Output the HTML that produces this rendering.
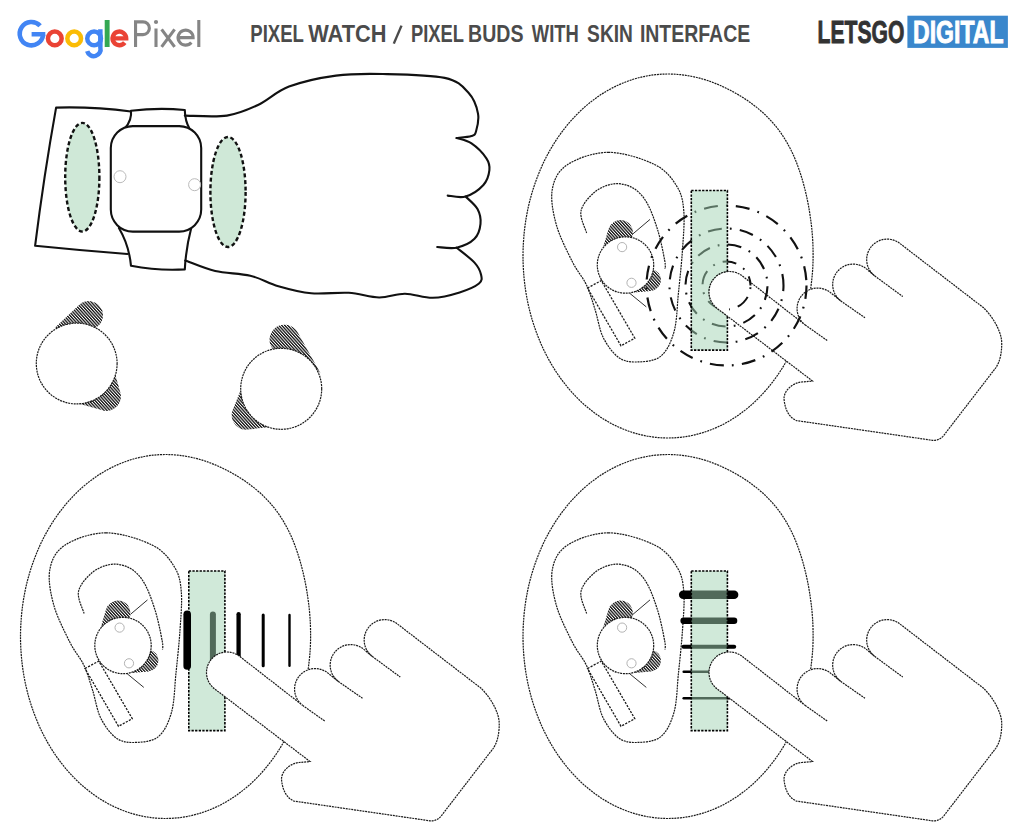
<!DOCTYPE html>
<html><head><meta charset="utf-8">
<style>
html,body{margin:0;padding:0;background:#fff;}
body{width:1024px;height:839px;overflow:hidden;}
svg{display:block;}
</style></head>
<body>
<svg width="1024" height="839" viewBox="0 0 1024 839" font-family="Liberation Sans, sans-serif">
<defs>
<pattern id="hatch" patternUnits="userSpaceOnUse" width="2.25" height="4" patternTransform="rotate(-42)">
<rect width="2.25" height="4" fill="#fff"/>
<rect width="1.3" height="4" fill="#111"/>
</pattern>
<clipPath id="rclip"><rect x="690" y="189" width="39" height="162"/></clipPath>
<g id="base">
<g fill="none" stroke="#1a1a1a" stroke-width="1.2" stroke-dasharray="2 0.8">
<path d="M813.1,256.0 C813.1,261.3 812.9,266.6 812.5,271.9 C812.1,277.1 811.5,282.4 810.8,287.6 C810.1,292.8 809.2,298.0 808.1,303.1 C807.0,308.2 805.7,313.3 804.3,318.2 C802.8,323.2 801.2,328.1 799.4,332.9 C797.6,337.7 795.7,342.4 793.6,347.0 C791.5,351.6 789.2,356.1 786.8,360.4 C784.4,364.7 781.8,368.9 779.1,373.0 C776.4,377.0 773.5,381.0 770.5,384.7 C767.6,388.4 764.4,392.0 761.2,395.4 C758.0,398.8 754.6,402.1 751.2,405.1 C747.7,408.1 744.1,411.0 740.5,413.6 C736.9,416.3 733.1,418.7 729.3,420.9 C725.5,423.2 721.6,425.2 717.6,427.0 C713.6,428.8 709.6,430.4 705.5,431.8 C701.5,433.2 697.3,434.3 693.2,435.2 C689.0,436.2 684.8,436.8 680.6,437.3 C676.4,437.8 672.2,438.0 668.0,438.0 C663.8,438.0 659.6,437.8 655.4,437.3 C651.2,436.8 647.0,436.2 642.8,435.2 C638.7,434.3 634.5,433.2 630.5,431.8 C626.4,430.4 622.4,428.8 618.4,427.0 C614.4,425.2 610.5,423.2 606.7,420.9 C602.9,418.7 599.1,416.3 595.5,413.6 C591.9,411.0 588.3,408.1 584.8,405.1 C581.4,402.1 578.0,398.8 574.8,395.4 C571.6,392.0 568.4,388.4 565.5,384.7 C562.5,381.0 559.6,377.0 556.9,373.0 C554.2,368.9 551.6,364.7 549.2,360.4 C546.8,356.1 544.5,351.6 542.4,347.0 C540.3,342.4 538.4,337.7 536.6,332.9 C534.8,328.1 533.2,323.2 531.7,318.2 C530.3,313.3 529.0,308.2 527.9,303.1 C526.9,298.0 525.9,292.8 525.2,287.6 C524.5,282.4 523.9,277.1 523.6,271.9 C523.2,266.6 523.0,261.3 523.0,256.0 C523.0,250.7 523.2,245.4 523.6,240.1 C523.9,234.9 524.5,229.6 525.2,224.4 C525.9,219.2 526.9,214.0 527.9,208.9 C529.0,203.8 530.3,198.7 531.7,193.8 C533.2,188.8 534.8,183.9 536.6,179.1 C538.4,174.3 540.3,169.6 542.4,165.0 C544.5,160.4 546.8,155.9 549.2,151.6 C551.6,147.3 554.2,143.1 556.9,139.0 C559.6,135.0 562.5,131.0 565.5,127.3 C568.4,123.6 571.6,120.0 574.8,116.6 C578.0,113.2 581.4,109.9 584.8,106.9 C588.3,103.9 591.9,101.0 595.5,98.4 C599.1,95.7 602.9,93.3 606.7,91.1 C610.5,88.8 614.4,86.8 618.4,85.0 C622.4,83.2 626.4,81.6 630.5,80.2 C634.5,78.8 638.7,77.7 642.8,76.8 C647.0,75.8 651.2,75.2 655.4,74.7 C659.6,74.2 663.8,74.0 668.0,74.0 C672.2,74.0 676.4,74.2 680.6,74.7 C684.8,75.1 689.0,75.8 693.2,76.7 C697.4,77.5 701.5,78.7 705.6,79.9 C709.7,81.2 713.7,82.7 717.8,84.4 C721.8,86.1 725.7,88.0 729.7,90.0 C733.6,92.0 737.5,94.2 741.3,96.6 C745.2,99.0 749.0,101.5 752.6,104.3 C756.3,107.0 760.0,110.0 763.5,113.2 C766.9,116.4 770.3,119.9 773.5,123.6 C776.7,127.2 779.7,131.2 782.5,135.4 C785.3,139.6 787.9,144.0 790.2,148.6 C792.6,153.1 794.7,157.9 796.6,162.8 C798.5,167.7 800.2,172.7 801.7,177.7 C803.3,182.8 804.6,187.9 805.8,193.0 C807.0,198.2 808.1,203.4 809.0,208.6 C809.9,213.8 810.6,219.0 811.3,224.3 C811.9,229.5 812.4,234.8 812.7,240.1 C813.0,245.4 813.1,250.7 813.1,256.0Z"/>
<path d="M608.5,152.3 C623.1,152.3 643.6,159.0 655.0,164.7 C666.4,170.4 672.2,178.8 677.0,186.6 C681.8,194.3 682.9,200.7 683.8,211.2 C684.7,221.7 683.4,235.9 682.5,249.6 C681.6,263.3 679.8,279.7 678.4,293.4 C677.0,307.1 677.0,321.3 674.0,331.8 C671.0,342.3 666.8,351.4 660.5,356.4 C654.2,361.4 643.1,361.9 636.0,362.0 C628.9,362.1 623.5,361.2 618.0,357.0 C612.5,352.8 606.8,344.9 603.0,337.0 C599.2,329.1 597.8,318.1 595.0,309.4 C592.2,300.7 590.2,292.9 586.5,285.0 C582.8,277.1 577.5,272.0 572.5,262.0 C567.5,252.0 559.8,237.1 556.4,225.0 C553.0,212.9 550.5,199.4 552.3,189.3 C554.1,179.2 558.0,170.9 567.4,164.7 C576.8,158.5 593.9,152.3 608.5,152.3Z"/>
<path d="M586.6,233.0 C585.7,229.3 579.6,217.8 581.0,211.0 C582.4,204.2 589.3,196.5 594.8,192.0 C600.3,187.5 607.6,184.5 614.0,183.8 C620.4,183.1 627.5,184.8 633.0,188.0 C638.5,191.2 642.9,195.9 647.0,203.0 C651.1,210.1 654.8,220.8 657.8,230.4 C660.8,240.0 663.5,254.1 664.7,260.5 C665.9,266.9 665.0,267.6 665.0,269.0"/>
<path d="M587.5,288 L601.3,280.6 L634.8,338.2 L621,345.8 Z" stroke-width="1.3" stroke-dasharray="2.2 1.3"/>
<path d="M633,233.8 L650,219.4 M629.4,293 L646.3,306.9" stroke-dasharray="none" stroke-width="0.9"/>
</g>
<path d="M603.50,246.00 L608.51,228.97 A12.50,12.50 0 1 1 621.22,244.98 Z" fill="url(#hatch)"/>
<path d="M634.00,292.50 L639.61,276.38 A11.00,11.00 0 1 1 651.00,290.95 Z" fill="url(#hatch)"/>
<circle cx="625.5" cy="265" r="28.2" fill="#fff" stroke="#1a1a1a" stroke-width="1.2" stroke-dasharray="2 0.8"/>
<g fill="none" stroke="#aaa" stroke-width="0.9"><circle cx="622.1" cy="247.1" r="4.6"/><circle cx="631.5" cy="282.8" r="4.6"/></g>
</g>
<g id="grect"><rect x="691.3" y="190.5" width="36.1" height="159.6" fill="rgb(161,211,179)" fill-opacity="0.5" stroke="#000" stroke-width="1.6" stroke-dasharray="2.3 1.3"/></g>
<g id="hand">
<path d="M716.9,308.2 A20.5,20.5 0 0 1 742.1,275.8 L805.0,324.8 A20.5,20.5 0 0 1 830.2,292.4 L840.6,300.8 A20.5,20.5 0 0 1 865.8,268.4 L874.6,275.8 A20.5,20.5 0 0 1 899.8,243.4 L983.6,307.8 C992,316 1001,330 1001.7,342 C1002,352 1000,362 995.6,368 L943,436.4 C939,440 935,441 931,440.1 L796.6,420.6 C790,418 785,411 784,398.6 C784,391 792,383 801.5,382 L812.5,381 Z" fill="#fff" stroke="#1a1a1a" stroke-width="1.2" stroke-dasharray="2 0.8"/>
<path d="M805.0,324.8 L827.2,340.5 M840.6,300.8 L865,317.8 M874.6,275.8 L902.8,296.6" fill="none" stroke="#1a1a1a" stroke-width="1.2" stroke-dasharray="2 0.8"/>
</g>
</defs>
<rect width="1024" height="839" fill="#fff"/>
<path d="M40.09,25.77 A11.70,11.70 0 1 0 43.10,34.60" fill="none" stroke="#4285F4" stroke-width="4.6"/>
<rect x="31.6" y="32.0" width="13.7" height="4.5" fill="#4285F4"/>
<circle cx="54.8" cy="38.4" r="6.85" fill="none" stroke="#EA4335" stroke-width="4.5"/>
<circle cx="74.2" cy="38.4" r="6.85" fill="none" stroke="#FBBC05" stroke-width="4.5"/>
<circle cx="94.1" cy="38.4" r="6.85" fill="none" stroke="#4285F4" stroke-width="4.5"/>
<path d="M100.35,29.3 V47.5 A6.5,6.5 0 0 1 87.2,51.2" fill="none" stroke="#4285F4" stroke-width="4.5"/>
<rect x="104.7" y="20" width="4.9" height="27" fill="#34A853"/>
<path d="M111.60,38.40 H126.20 A6.80,6.80 0 1 0 124.76,42.59" fill="none" stroke="#EA4335" stroke-width="4.4"/>
<g fill="none" stroke="#858585" stroke-width="3.1">
<path d="M135.55,47 V21.85 H143 A6.375,6.375 0 0 1 143,34.6 H135.55"/>
<path d="M156,28.5 V47"/>
<path d="M161.6,29.3 L174.6,46.9 M174.6,29.3 L161.6,46.9"/>
<path d="M177.10,37.60 H193.10 A7.50,7.50 0 1 0 191.35,42.42"/>
<path d="M198.8,20 V47"/>
</g>
<circle cx="156" cy="22" r="2.1" fill="#858585"/>
<g font-family="Liberation Sans" font-weight="bold" font-size="23" fill="#4b4b4b">
<text x="250.3" y="41.6" textLength="53.6" lengthAdjust="spacingAndGlyphs">PIXEL</text>
<text x="308.2" y="41.6" textLength="78.3" lengthAdjust="spacingAndGlyphs">WATCH</text>
<path d="M401.5,25.6 L393.8,43.6" stroke="#4b4b4b" stroke-width="2.4" fill="none"/>
<text x="411.0" y="41.6" textLength="53.0" lengthAdjust="spacingAndGlyphs">PIXEL</text>
<text x="468.1" y="41.6" textLength="55.4" lengthAdjust="spacingAndGlyphs">BUDS</text>
<text x="531.8" y="41.6" textLength="47.0" lengthAdjust="spacingAndGlyphs">WITH</text>
<text x="587.1" y="41.6" textLength="45.8" lengthAdjust="spacingAndGlyphs">SKIN</text>
<text x="639.9" y="41.6" textLength="110.3" lengthAdjust="spacingAndGlyphs">INTERFACE</text>
</g>
<text x="817.6" y="43.4" font-family="Liberation Sans" font-weight="bold" font-size="31.5" fill="#333" stroke="#333" stroke-width="0.9" textLength="86.8" lengthAdjust="spacingAndGlyphs">LETSGO</text>
<rect x="907.4" y="15.7" width="100.5" height="32.2" fill="#3a87cc"/>
<text x="913" y="43.4" font-family="Liberation Sans" font-weight="bold" font-size="31.5" fill="#fff" stroke="#fff" stroke-width="0.9" textLength="90.5" lengthAdjust="spacingAndGlyphs">DIGITAL</text>
<g fill="none" stroke="#111" stroke-width="2.1" stroke-linejoin="round" stroke-linecap="round">
<path d="M131,111.5 Q93,106.5 56.1,107.6 Q44,175 35.1,245.8 Q81,250.5 127.4,254"/>
<path d="M125,128 Q132,120 131,110.8 Q158,107.5 184.8,110 Q185,121 189.7,129"/>
<path d="M118.9,228 Q129,245 131,265.8 Q158,271 184.8,269.4 Q186,248 191,229"/>
<rect x="110.8" y="126.1" width="90.4" height="105.5" rx="22" ry="22" fill="#fff"/>
<path d="M184.8,115.6 C191.8,115.6 214.7,117.4 226.9,115.6 C239.1,113.8 247.7,109.8 258.0,105.0 C268.4,100.2 276.0,91.5 289.0,86.6 C302.0,81.7 320.3,77.7 336.0,75.6 C351.7,73.5 364.9,73.6 383.0,74.0 C401.1,74.4 430.4,74.8 444.7,77.9 C458.9,81.0 462.9,86.8 468.5,92.8 C474.1,98.8 476.8,107.1 478.0,113.6 C479.2,120.0 477.1,127.8 476.0,131.5 C474.9,135.2 474.7,134.9 471.5,136.0 C468.3,137.1 459.1,137.7 456.6,138.0"/>
<path d="M456.6,138.0 C459.1,138.9 466.5,140.0 471.5,143.4 C476.5,146.8 483.4,153.8 486.4,158.3 C489.4,162.8 489.9,165.8 489.4,170.2 C488.9,174.6 487.4,180.6 483.4,185.0 C479.4,189.4 471.6,194.7 465.6,196.5 C459.7,198.3 450.7,195.8 447.7,195.6"/>
<path d="M465.6,196.5 C467.6,198.6 475.0,204.4 477.5,209.0 C480.0,213.6 481.0,218.9 480.5,223.9 C480.0,228.9 478.5,234.8 474.5,238.8 C470.5,242.8 462.8,246.3 456.6,247.7 C450.4,249.1 440.4,247.1 437.2,247.0"/>
<path d="M456.6,247.7 C459.6,250.2 470.4,258.1 474.5,262.6 C478.6,267.1 480.2,271.0 481.0,274.5 C481.8,278.0 482.6,280.5 479.0,283.5 C475.4,286.5 467.3,290.0 459.6,292.4 C451.9,294.8 441.9,297.6 432.8,297.8 C423.7,298.0 413.9,293.8 405.0,293.7 C396.1,293.6 388.6,297.6 379.2,297.5 C369.8,297.4 360.0,293.5 348.7,292.8 C337.4,292.1 322.9,294.4 311.2,293.3 C299.5,292.2 288.5,289.1 278.4,286.2 C268.2,283.3 260.8,278.2 250.3,275.7 C239.8,273.2 226.0,273.5 215.2,271.0 C204.3,268.5 190.2,262.2 185.2,260.5"/>
</g>
<g fill="#cfe8d7" stroke="#111" stroke-width="2.4" stroke-dasharray="4 2.6">
<ellipse cx="82.3" cy="177.2" rx="17.1" ry="54.3"/>
<ellipse cx="228" cy="192" rx="17.6" ry="55"/>
</g>
<g fill="#fff" stroke="#bbb" stroke-width="1">
<circle cx="120" cy="176.7" r="6"/>
<circle cx="194.6" cy="184.7" r="6"/>
</g>
<path d="M54.60,328.00 L79.07,304.96 A14.20,14.20 0 1 1 88.17,329.49 Z" fill="url(#hatch)"/>
<path d="M74.70,402.50 L97.81,385.02 A14.40,14.40 0 1 1 102.59,410.36 Z M115.50,375.50 L120.35,392.56 A14.40,14.40 0 1 1 99.80,383.75 Z" fill="url(#hatch)"/>
<circle cx="76.7" cy="363.5" r="40.4" fill="#fff" stroke="#1a1a1a" stroke-width="1.2" stroke-dasharray="2 0.8"/>
<path d="M320.50,373.30 L278.09,353.26 A15.00,15.00 0 1 1 297.59,332.37 Z" fill="url(#hatch)"/>
<path d="M269.70,427.00 L247.92,429.60 A14.50,14.50 0 1 1 258.77,407.98 Z M240.50,390.50 L255.92,404.44 A14.50,14.50 0 1 1 232.75,409.79 Z" fill="url(#hatch)"/>
<circle cx="281.2" cy="388.8" r="40.5" fill="#fff" stroke="#1a1a1a" stroke-width="1.2" stroke-dasharray="2 0.8"/>
<use href="#base"/>
<use href="#hand"/>
<g fill="none" stroke="#111" stroke-dasharray="14 8.2 1.8 8.2">
<circle cx="726.5" cy="285.5" r="80" stroke-width="2.2" stroke-dashoffset="0.60"/>
<circle cx="726.5" cy="285.5" r="57" stroke-width="2.1" stroke-dashoffset="8.20"/>
<circle cx="726.5" cy="285.5" r="41" stroke-width="2.1" stroke-dashoffset="-0.80"/>
<circle cx="726.5" cy="285.5" r="24" stroke-width="2.0" stroke-dashoffset="20.40"/>
</g>
<use href="#grect"/>
<g clip-path="url(#rclip)"><use href="#hand"/></g>
<g transform="translate(-502.5,380.5)"><use href="#base"/></g>
<g stroke="#000" stroke-linecap="round">
<line x1="212.9" y1="614.5" x2="212.9" y2="672" stroke-width="6"/>
<line x1="238.6" y1="614.2" x2="238.6" y2="670" stroke-width="4.3"/>
<line x1="263.2" y1="615" x2="263.2" y2="665.8" stroke-width="3"/>
<line x1="289.5" y1="615" x2="289.5" y2="665.8" stroke-width="2.4"/>
</g>
<g transform="translate(-502.5,380.5)"><use href="#grect"/></g>
<line x1="187.2" y1="614.2" x2="187.2" y2="666" stroke="#000" stroke-width="7.6" stroke-linecap="round"/>
<g transform="translate(-502.5,380.5)"><use href="#hand"/></g>
<g transform="translate(0.0,380.5)"><use href="#base"/></g>
<g stroke="#000" stroke-linecap="round">
<line x1="683.2" y1="594.8" x2="734.1" y2="594.8" stroke-width="8.5"/>
<line x1="683.6" y1="620.8" x2="734.1" y2="620.8" stroke-width="6.4"/>
<line x1="683.5" y1="646.7" x2="734.2" y2="646.7" stroke-width="4"/>
<line x1="683.7" y1="671.8" x2="735" y2="671.8" stroke-width="2.5"/>
<line x1="683.7" y1="698.2" x2="735" y2="698.2" stroke-width="2.5"/>
</g>
<g transform="translate(0.0,380.5)"><use href="#grect"/></g>

<g transform="translate(0.0,380.5)"><use href="#hand"/></g>
</svg>
</body></html>
